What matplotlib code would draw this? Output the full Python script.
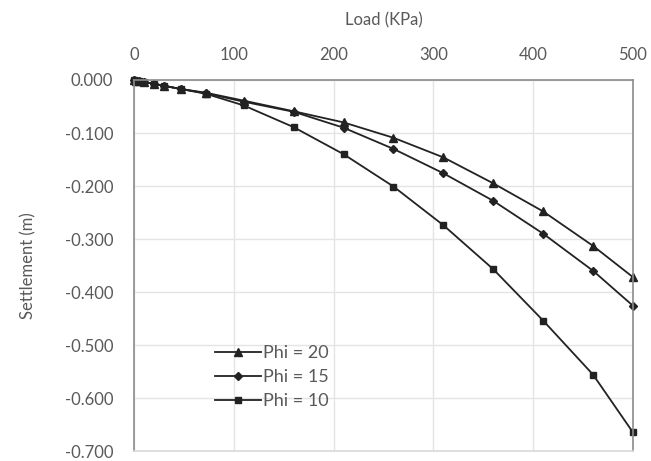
import numpy as np
import matplotlib.pyplot as plt

plt.rcParams['font.family'] = ['Lato', 'DejaVu Sans']

load = [0, 2.5, 5, 10, 20, 30, 47, 72, 110, 160, 210, 260, 310, 360, 410, 460, 500]
phi20 = [0.0, -0.001, -0.002, -0.004, -0.007, -0.011, -0.017, -0.024, -0.039, -0.059,
         -0.080, -0.109, -0.146, -0.195, -0.248, -0.313, -0.372]
phi15 = [0.0, -0.001, -0.002, -0.004, -0.007, -0.011, -0.017, -0.025, -0.041, -0.060,
         -0.090, -0.130, -0.176, -0.228, -0.290, -0.360, -0.426]
phi10 = [0.0, -0.001, -0.002, -0.004, -0.007, -0.011, -0.017, -0.026, -0.048, -0.089,
         -0.140, -0.201, -0.274, -0.357, -0.454, -0.556, -0.665]
yticks = [0.0, -0.1, -0.2, -0.3, -0.4, -0.5, -0.6, -0.7]
ylabels = ['0.000', '-0.100', '-0.200', '-0.300', '-0.400', '-0.500', '-0.600', '-0.700']

txt = '#595959'
fig = plt.figure(figsize=(6.51, 4.61), dpi=100)
ax = fig.add_axes([134/651, 1-451/461, (633-134)/651, (451-80)/461])

ax.plot(load, phi20, color='#222222', lw=1.3, marker='^', ms=6, label='Phi = 20', clip_on=False)
ax.plot(load, phi15, color='#222222', lw=1.3, marker='D', ms=4.5, label='Phi = 15', clip_on=False)
ax.plot(load, phi10, color='#222222', lw=1.3, marker='s', ms=5, label='Phi = 10', clip_on=False)

ax.set_xlim(0, 500)
ax.set_ylim(-0.7, 0)
ax.set_xticks(np.arange(0, 501, 100))
ax.set_yticks(yticks)
ax.set_yticklabels(ylabels)
ax.xaxis.tick_top()
ax.xaxis.set_label_position('top')
ax.tick_params(length=0, labelsize=12, colors=txt)
ax.tick_params(axis='x', pad=12)
ax.tick_params(axis='y', pad=15)
ax.set_xlabel('Load (KPa)', fontsize=12, color=txt, labelpad=16)
ax.set_ylabel('Settlement (m)', fontsize=12, color=txt, labelpad=20)
ax.grid(color='#e4e4e4', lw=1)
ax.set_axisbelow(True)
for s in ax.spines.values():
    s.set_color('#8c8c8c')
    s.set_linewidth(1.2)
ax.spines['bottom'].set_color('#d9d9d9')

leg = ax.legend(loc='upper left', bbox_to_anchor=(0.145, 0.31), frameon=False,
                fontsize=13, handlelength=2.5, handletextpad=0.15, labelspacing=0.45,
                borderpad=0)
for t in leg.get_texts():
    t.set_color(txt)

fig.savefig('out.png', dpi=100)
